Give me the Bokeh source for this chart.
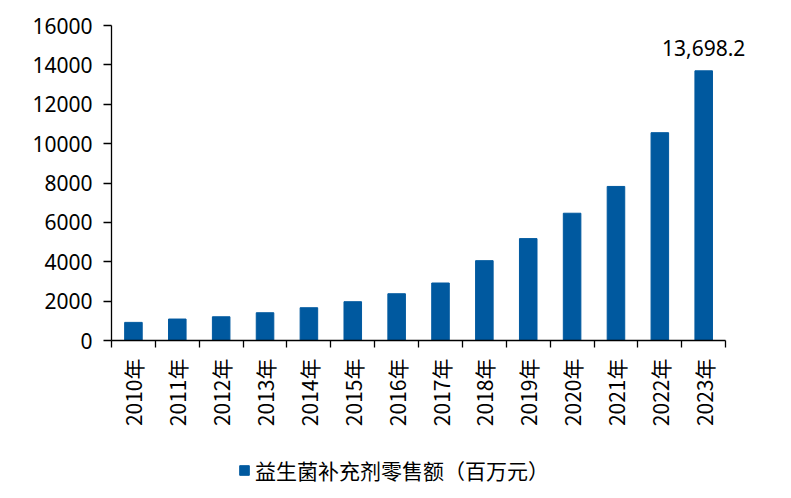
import math
from bokeh.plotting import figure
from bokeh.layouts import column
from bokeh.models import ColumnDataSource, Range1d, FixedTicker, Legend, LegendItem, NumeralTickFormatter, Label
from bokeh.embed import file_html
from bokeh.resources import INLINE

# ---- data ----
years = ["2010年", "2011年", "2012年", "2013年", "2014年", "2015年", "2016年",
         "2017年", "2018年", "2019年", "2020年", "2021年", "2022年", "2023年"]
sales = [920, 1090, 1205, 1410, 1665, 1970, 2375,
         2920, 4055, 5175, 6465, 7825, 10555, 13698.2]
series_name = "益生菌补充剂零售额（百万元）"
y_ticks = [0, 2000, 4000, 6000, 8000, 10000, 12000, 14000, 16000]

BAR = "#00599F"
FONT = "Noto Sans"
CJK = "Noto Sans CJK SC"

n = len(years)
xs = list(range(n))
src = ColumnDataSource(dict(x=xs, top=sales))

# frame extends one category to the right (empty) so the value label is not clipped
p = figure(width=783, height=448, output_backend="svg", toolbar_location=None,
           x_range=Range1d(-0.5, n + 0.5), y_range=Range1d(0, 16000),
           min_border_left=111, min_border_right=14, min_border_top=25, min_border_bottom=108)
p.outline_line_color = None
p.grid.visible = False

r = p.vbar(x="x", top="top", width=0.4, source=src, fill_color=BAR, line_color=BAR)

# last value label
p.add_layout(Label(x=xs[-1], y=sales[-1], text=f"{sales[-1]:,.1f}", text_align="center",
                   text_baseline="alphabetic", y_offset=23, text_font=FONT,
                   text_font_size="21px", text_color="#000000"))

# x axis
xa = p.xaxis[0]
xa.bounds = (-0.5, n - 0.5)
xa.ticker = FixedTicker(ticks=xs, minor_ticks=[i - 0.5 for i in range(n + 1)])
xa.major_label_overrides = {i: y for i, y in zip(xs, years)}
xa.major_label_orientation = math.pi / 2
xa.major_tick_out = 0
xa.major_tick_in = 0
xa.minor_tick_out = 7
xa.minor_tick_in = 0
xa.minor_tick_line_color = "#000000"
xa.minor_tick_line_width = 1.3
xa.axis_line_color = "#000000"
xa.axis_line_width = 1.3
xa.major_label_standoff = 11
xa.major_label_text_font = CJK
xa.major_label_text_font_size = "21px"
xa.major_label_text_color = "#000000"

# y axis
ya = p.yaxis[0]
ya.ticker = FixedTicker(ticks=y_ticks)
ya.formatter = NumeralTickFormatter(format="0")
ya.major_tick_out = 8
ya.major_tick_in = 0
ya.minor_tick_out = 0
ya.minor_tick_in = 0
ya.major_tick_line_color = "#000000"
ya.major_tick_line_width = 1.3
ya.axis_line_color = "#000000"
ya.axis_line_width = 1.3
ya.major_label_standoff = 11
ya.major_label_text_font = FONT
ya.major_label_text_font_size = "21px"
ya.major_label_text_color = "#000000"

# legend strip
q = figure(width=783, height=46, output_backend="svg", toolbar_location=None,
           x_range=Range1d(0, 1), y_range=Range1d(0, 1),
           x_axis_location=None, y_axis_location=None,
           min_border=0, min_border_left=111, min_border_right=14, min_border_top=0, min_border_bottom=0)
q.grid.visible = False
q.outline_line_color = None
# hidden legend proxy carrying the bar style
lr = q.vbar(x=[0.5], top=[1], width=0.4, fill_color=BAR, line_color=BAR, visible=False)
legend = Legend(items=[LegendItem(label=series_name, renderers=[lr])],
                location=(127, 9), orientation="horizontal",
                glyph_width=12, glyph_height=12, label_standoff=5, padding=0, margin=0,
                border_line_color=None, background_fill_alpha=0,
                label_text_font=CJK, label_text_font_size="21px", label_text_color="#000000")
q.add_layout(legend, "center")

open("out.html", "w").write(file_html(column(p, q, spacing=0), INLINE))
